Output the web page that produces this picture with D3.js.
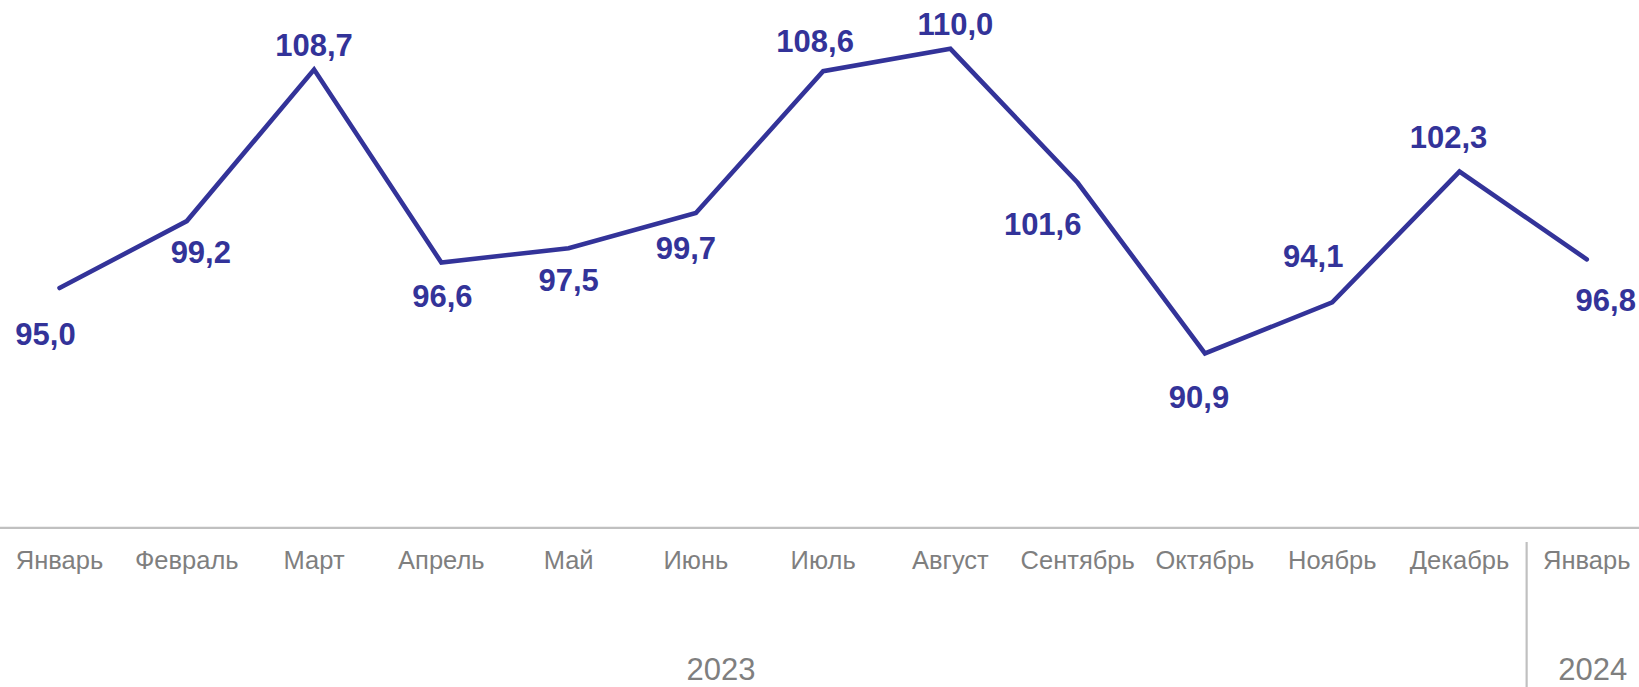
<!DOCTYPE html>
<html><head><meta charset="utf-8">
<script src="https://cdn.jsdelivr.net/npm/d3@7"></script>
<style>
html,body{margin:0;padding:0;background:#fff;overflow:hidden;}
svg{display:block;font-family:"Liberation Sans",Arial,sans-serif;}
</style></head>
<body>
<svg id="chart" width="1639" height="687"></svg>
<script>
// ---- data ----
const months = ["Январь","Февраль","Март","Апрель","Май","Июнь","Июль","Август","Сентябрь","Октябрь","Ноябрь","Декабрь","Январь"];
const values = [95.0, 99.2, 108.7, 96.6, 97.5, 99.7, 108.6, 110.0, 101.6, 90.9, 94.1, 102.3, 96.8];
const valueLabels = ["95,0","99,2","108,7","96,6","97,5","99,7","108,6","110,0","101,6","90,9","94,1","102,3","96,8"];
const years = ["2023","2024"];
const yearMonthCounts = [12, 1];

// ---- layout (not data) ----
const labelOffsets = [[-14,57],[14,42],[0,-14],[1,44],[0,43],[-10,46],[-8,-19],[5,-14],[-35,52],[-6,55],[-19,-35],[-11,-24],[19,52]];
const W = 1639, H = 687;
const lineColor = "#333399";
const grey = "#7f7f7f";
const axisGrey = "#c0c0c0";

const svg = d3.select("#chart");

const idx = d3.range(months.length);
const xBand = d3.scaleBand().domain(idx).range([-4.1, 1650.4]).padding(0);
const x = i => xBand(i) + xBand.bandwidth() / 2;
const y = d3.scaleLinear().domain([80, 110]).range([527.3, 48.8]);

// axis
const axis = d3.axisBottom(xBand).tickSize(0).tickSizeOuter(0).tickFormat(i => months[i]);
const gAxis = svg.append("g").attr("transform", `translate(0,${y(80)})`).call(axis);
gAxis.select(".domain").attr("stroke", axisGrey).attr("stroke-width", 2.2);
gAxis.selectAll(".tick text")
  .attr("y", 42).attr("dy", null)
  .attr("fill", grey).attr("font-size", 25.5)
  .attr("font-family", "Liberation Sans, Arial, sans-serif");

// separator between years
const sepX = xBand(yearMonthCounts[0]) + 3.5;
svg.append("line").attr("x1", sepX).attr("x2", sepX).attr("y1", 542).attr("y2", H)
  .attr("stroke", axisGrey).attr("stroke-width", 2.2);

// year labels
const yearX = [721, x(12) + 6];
svg.selectAll(".year").data(years).join("text")
  .attr("class", "year")
  .attr("x", (d, i) => yearX[i]).attr("y", 680)
  .attr("text-anchor", "middle")
  .attr("fill", grey).attr("font-size", 31)
  .text(d => d);

// line
const line = d3.line().x((d, i) => x(i)).y(d => y(d));
svg.append("path").datum(values)
  .attr("d", line)
  .attr("fill", "none")
  .attr("stroke", lineColor)
  .attr("stroke-width", 4.6)
  .attr("stroke-linejoin", "miter")
  .attr("stroke-linecap", "round");

// value labels
svg.selectAll(".vl").data(values).join("text")
  .attr("class", "vl")
  .attr("x", (d, i) => x(i) + labelOffsets[i][0])
  .attr("y", (d, i) => y(d) + labelOffsets[i][1])
  .attr("text-anchor", "middle")
  .attr("fill", lineColor)
  .attr("font-size", 31)
  .attr("font-weight", "bold")
  .text((d, i) => valueLabels[i]);
</script>
</body></html>
